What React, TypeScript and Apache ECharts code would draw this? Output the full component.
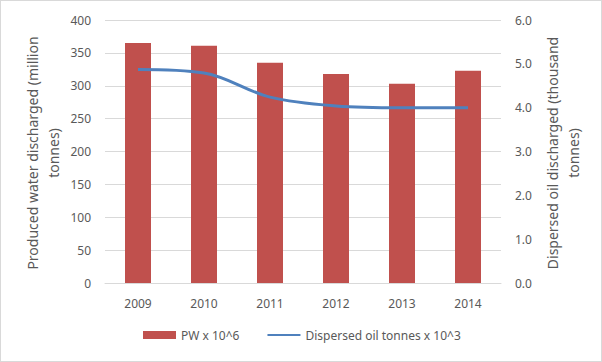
import React, { useEffect, useRef } from "react";
import * as echarts from "echarts";

const years = ["2009", "2010", "2011", "2012", "2013", "2014"];
const producedWater = [365, 361, 335, 318, 303, 323];
const dispersedOil = [4.87, 4.79, 4.24, 4.04, 4.0, 4.0];
const leftAxisTitle = "Produced water discharged (million\ntonnes)";
const rightAxisTitle = "Dispersed oil discharged (thousand\ntonnes)";
const barName = "PW x 10^6";
const lineName = "Dispersed oil tonnes x 10^3";

const FONT = "'Noto Sans', 'Liberation Sans', sans-serif";
const TXT = "#595959";

export default function App() {
  const ref = useRef<HTMLDivElement>(null);
  useEffect(() => {
    if (!ref.current) return;
    const chart = echarts.init(ref.current, null, { renderer: "svg" });
    chart.setOption({
      animation: false,
      backgroundColor: "#ffffff",
      textStyle: { fontFamily: FONT },
      grid: { left: 104, right: 100, top: 19, bottom: 78 },
      legend: {
        bottom: 15,
        left: 137,
        itemWidth: 33,
        itemHeight: 8,
        itemGap: 27,
        textStyle: { color: TXT, fontSize: 12, fontFamily: FONT },
        data: [
          { name: barName, icon: "rect" },
          { name: lineName, itemStyle: { opacity: 0 } },
        ],
      },
      xAxis: {
        type: "category",
        data: years,
        axisLine: { lineStyle: { color: "#d9d9d9" } },
        axisTick: { show: false },
        axisLabel: { color: TXT, fontSize: 12, margin: 14, fontFamily: FONT },
      },
      yAxis: [
        {
          type: "value",
          min: 0,
          max: 400,
          interval: 50,
          axisLine: { show: false },
          axisTick: { show: false },
          axisLabel: { color: TXT, fontSize: 12, margin: 14, fontFamily: FONT },
          splitLine: { lineStyle: { color: "#d9d9d9" } },
        },
        {
          type: "value",
          min: 0,
          max: 6,
          interval: 1,
          position: "right",
          axisLine: { show: false },
          axisTick: { show: false },
          splitLine: { show: false },
          axisLabel: {
            color: TXT,
            fontSize: 12,
            margin: 14,
            fontFamily: FONT,
            formatter: (v: number) => v.toFixed(1),
          },
        },
      ],
      graphic: [
        {
          type: "text",
          x: 42,
          y: 152,
          rotation: Math.PI / 2,
          style: {
            text: leftAxisTitle,
            fill: TXT,
            font: `14px ${FONT}`,
            align: "center",
            verticalAlign: "middle",
            lineHeight: 21,
          },
        },
        {
          type: "text",
          x: 562,
          y: 152,
          rotation: Math.PI / 2,
          style: {
            text: rightAxisTitle,
            fill: TXT,
            font: `14px ${FONT}`,
            align: "center",
            verticalAlign: "middle",
            lineHeight: 21,
          },
        },
      ],
      series: [
        {
          name: barName,
          type: "bar",
          data: producedWater,
          barWidth: 26,
          itemStyle: { color: "#C0504D" },
        },
        {
          name: lineName,
          type: "line",
          yAxisIndex: 1,
          data: dispersedOil,
          smooth: 0.35,
          symbol: "none",
          lineStyle: { color: "#4F81BD", width: 3 },
          itemStyle: { color: "#4F81BD" },
        },
      ],
    });
    return () => chart.dispose();
  }, []);
  return (
    <div
      style={{
        position: "absolute",
        left: 0,
        top: 0,
        width: 602,
        height: 362,
        boxSizing: "border-box",
        border: "1px solid #d9d9d9",
        background: "#fff",
      }}
    >
      <div ref={ref} style={{ width: 600, height: 360 }} />
    </div>
  );
}
